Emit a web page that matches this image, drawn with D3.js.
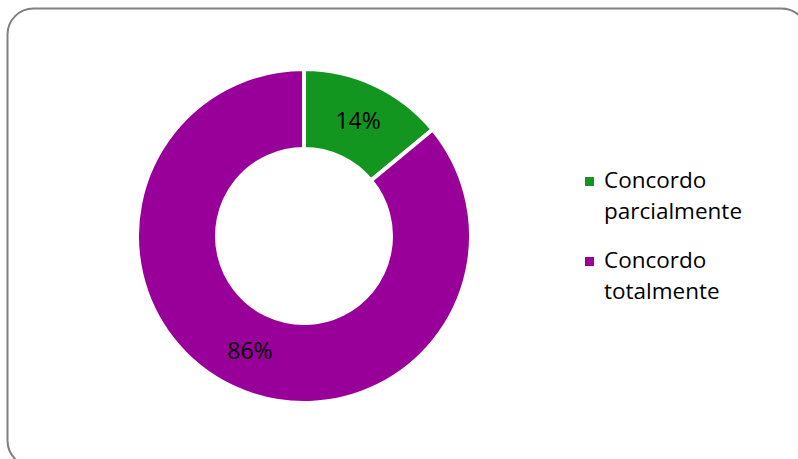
<!DOCTYPE html>
<html>
<head>
<meta charset="utf-8">
<script src="https://cdn.jsdelivr.net/npm/d3@7"></script>
<style>
  body { margin: 0; background: #fff; }
  svg { display: block; }
</style>
</head>
<body>
<svg id="chart" width="798" height="459"></svg>
<script>
var categories = ['Concordo parcialmente', 'Concordo totalmente'];
var legendLines = [['Concordo', 'parcialmente'], ['Concordo', 'totalmente']];
var values = [14, 86];
var colors = ['#13961f', '#990099'];

var width = 798, height = 459;
var cx = 304, cy = 236;
var outer = 167, inner = 87;

var svg = d3.select('#chart');

// frame
svg.append('rect')
  .attr('x', 7.5).attr('y', 8.5)
  .attr('width', 800).attr('height', 458)
  .attr('rx', 26).attr('ry', 26)
  .attr('fill', '#fff')
  .attr('stroke', '#808080')
  .attr('stroke-width', 2);

var pie = d3.pie().sort(null).value(function(d) { return d; });
var arc = d3.arc().outerRadius(outer).innerRadius(inner);
var labelArc = d3.arc().outerRadius((outer + inner) / 2).innerRadius((outer + inner) / 2);

var g = svg.append('g').attr('transform', 'translate(' + cx + ',' + cy + ')');

var arcs = g.selectAll('.arc')
  .data(pie(values))
  .enter().append('g')
  .attr('class', 'arc');

arcs.append('path')
  .attr('d', arc)
  .attr('fill', function(d, i) { return colors[i]; })
  .attr('stroke', '#fff')
  .attr('stroke-width', 4)
  .attr('stroke-linejoin', 'miter');

arcs.append('text')
  .attr('transform', function(d) { return 'translate(' + labelArc.centroid(d) + ')'; })
  .attr('dy', '.36em')
  .attr('text-anchor', 'middle')
  .attr('font-family', 'Open Sans, sans-serif')
  .attr('font-size', 23)
  .attr('fill', '#000')
  .text(function(d) { return d.data + '%'; });

// legend
var legend = svg.append('g').attr('transform', 'translate(585,0)');
var entryY = [188, 268];
legendLines.forEach(function(lines, i) {
  legend.append('rect')
    .attr('x', 0).attr('y', entryY[i] - 11)
    .attr('width', 9).attr('height', 9)
    .attr('fill', colors[i]);
  var t = legend.append('text')
    .attr('x', 19).attr('y', entryY[i])
    .attr('font-family', 'Open Sans, sans-serif')
    .attr('font-size', 22.5)
    .attr('fill', '#000');
  lines.forEach(function(line, j) {
    t.append('tspan').attr('x', 19).attr('y', entryY[i] + j * 31).text(line);
  });
});
</script>
</body>
</html>
